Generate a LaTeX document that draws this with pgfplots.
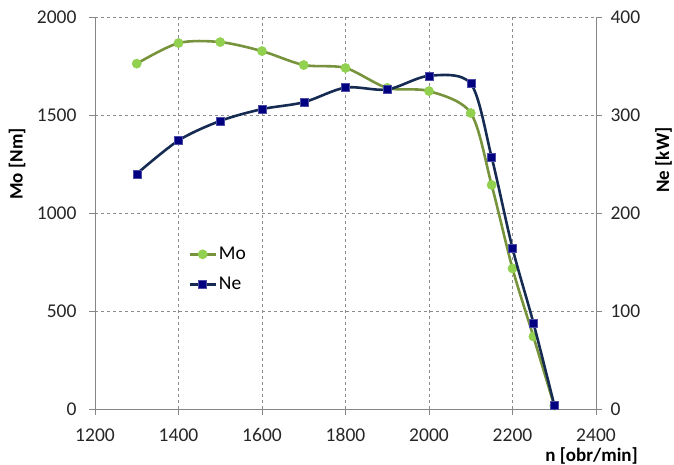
\documentclass[border=0pt]{standalone}
\usepackage{fontspec}
\setmainfont{Carlito}
\usepackage{pgfplots}
\pgfplotsset{compat=1.18}
\definecolor{mogreen}{RGB}{119,147,60}
\definecolor{momark}{RGB}{146,208,80}
\definecolor{neline}{RGB}{22,43,82}
\definecolor{nemark}{RGB}{0,0,128}
\definecolor{axgray}{RGB}{134,134,134}
\definecolor{gridgray}{RGB}{140,140,140}
\pgfplotsset{
  common/.style={
    scale only axis, width=501bp, height=392bp,
    xmin=1200, xmax=2400,
    axis line style={axgray, line width=0.8pt},
    tick style={axgray, line width=0.8pt}, tick align=outside, major tick length=6bp,
    /pgf/number format/1000 sep={}, /pgf/number format/assume math mode=true,
    tick label style={font=\fontsize{19.5bp}{22bp}\selectfont, text=black!85},
    label style={font=\fontsize{19bp}{22bp}\selectfont\bfseries},
  },
  mostyle/.style={mogreen, line width=2.6pt, smooth, mark=*, mark size=4.6bp, mark options={fill=momark, draw=momark, line width=0.5pt}},
  nestyle/.style={neline, line width=2.6pt, smooth, mark=square*, mark size=4bp, mark options={fill=nemark, draw=nemark!70!white, line width=0.5pt}},
}
\begin{document}
\begin{tikzpicture}
\begin{axis}[common,
  ymin=0, ymax=2000,
  xtick={1200,1400,...,2400}, ytick={0,500,...,2000},
  axis x line*=bottom, axis y line*=left,
  yticklabel style={xshift=-9bp},
  xticklabel style={yshift=-10bp},
  grid=major, major grid style={gridgray, dashed, line width=0.7pt},
  ylabel={Mo [Nm]},
  ylabel style={at={(axis description cs:0,0.625)}, anchor=center, inner sep=0pt, yshift=78bp},
  xlabel={n [obr/min]},
  xlabel style={at={(axis description cs:1,0)}, anchor=east, inner sep=0pt, xshift=42bp, yshift=-47bp},
]
\addplot[mostyle] coordinates {
(1300,1762)(1400,1867)(1500,1872)(1600,1826)(1700,1755)(1800,1740)(1900,1638)(2000,1622)(2100,1510)(2150,1143)(2200,717)(2250,370)(2300,17)
};
\end{axis}
\begin{axis}[common,
  ymin=0, ymax=400, ytick={0,100,...,400},
  axis y line*=right, axis x line=none,
  yticklabel style={xshift=5bp},
  ylabel={Ne [kW]},
  ylabel style={at={(axis description cs:1,0.635)}, anchor=center, inner sep=0pt, yshift=-67.5bp},
  legend style={at={(axis description cs:0.186,0.418)}, anchor=north west, draw=none, fill=none,
    font=\fontsize{19.5bp}{22bp}\selectfont, row sep=12bp, inner sep=0pt,
    /tikz/every even column/.append style={column sep=0pt}},
  legend cell align=left,
  legend image code/.code={\draw[mark repeat=2, mark phase=2, sharp plot] plot coordinates {(0bp,0bp)(13bp,0bp)(26bp,0bp)};},
]
\addlegendimage{mostyle}
\addlegendentry{Mo}
\addplot[nestyle] coordinates {
(1300,240)(1400,274)(1500,294)(1600,306)(1700,313)(1800,328)(1900,326)(2000,340)(2100,332)(2150,257)(2200,164)(2250,88)(2300,4)
};
\addlegendentry{Ne}
\end{axis}
\pgfresetboundingbox
\path (-95bp,-56bp) rectangle (579bp,409bp);
\end{tikzpicture}
\end{document}
